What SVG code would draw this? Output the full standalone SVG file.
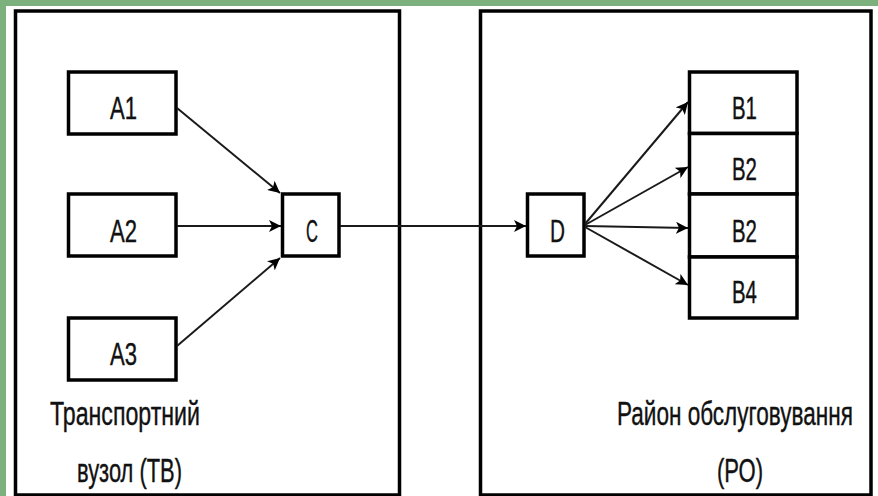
<svg xmlns="http://www.w3.org/2000/svg" width="878" height="496" viewBox="0 0 878 496">
<style>
.panel{fill:#fff;stroke:#000;stroke-width:3.5}
.box{fill:#fff;stroke:#000;stroke-width:3.5}
.lbl{font-family:"Liberation Sans",Arial,sans-serif;font-size:32px;fill:#111;stroke:#111;stroke-width:0.4}
.cap{font-family:"Liberation Sans",Arial,sans-serif;font-size:33px;fill:#111;stroke:#111;stroke-width:0.4}
.conn{stroke:#1a1a1a;stroke-width:2;fill:none;marker-end:url(#arr)}
</style>
<defs>
<marker id="arr" markerUnits="userSpaceOnUse" markerWidth="14" markerHeight="12" refX="12" refY="6" orient="auto">
<path d="M0,0 L12,6 L0,12 L3,6 Z" fill="#000"/>
</marker>
</defs>
<rect x="0" y="0" width="878" height="496" fill="#fff"/>
<rect x="0" y="0" width="878" height="6" fill="#7cb07c"/>
<rect x="0" y="0" width="6" height="496" fill="#7cb07c"/>

<g id="panel-tv">
<rect class="panel" x="15.5" y="11" width="384" height="484"/>
<text class="cap" transform="scale(0.7,1)" x="71.4" y="425" textLength="214.3" lengthAdjust="spacingAndGlyphs">Транспортний</text>
<text class="cap" transform="scale(0.7,1)" x="110" y="482" textLength="150" lengthAdjust="spacingAndGlyphs">вузол (ТВ)</text>
</g>
<g id="panel-ro">
<rect class="panel" x="480.5" y="11" width="390.5" height="484"/>
<text class="cap" transform="scale(0.7,1)" x="881.4" y="425" textLength="337.1" lengthAdjust="spacingAndGlyphs">Район обслуговування</text>
<text class="cap" transform="scale(0.7,1)" x="1024.3" y="482" textLength="65.7" lengthAdjust="spacingAndGlyphs">(РО)</text>
</g>

<g id="A1"><rect class="box" x="68.5" y="72" width="107.5" height="62"/><text class="lbl" transform="scale(0.7,1)" x="157.1" y="119" textLength="38.6" lengthAdjust="spacingAndGlyphs">A1</text></g>
<g id="A2"><rect class="box" x="68.5" y="194" width="107.5" height="62"/><text class="lbl" transform="scale(0.7,1)" x="157.1" y="242" textLength="38.6" lengthAdjust="spacingAndGlyphs">A2</text></g>
<g id="A3"><rect class="box" x="68.5" y="318" width="107.5" height="62"/><text class="lbl" transform="scale(0.7,1)" x="157.1" y="365" textLength="38.6" lengthAdjust="spacingAndGlyphs">A3</text></g>
<g id="C"><rect class="box" x="282.5" y="194" width="56.5" height="62"/><text class="lbl" transform="scale(0.7,1)" x="437.1" y="242" textLength="17.1" lengthAdjust="spacingAndGlyphs">C</text></g>
<g id="D"><rect class="box" x="527.5" y="194" width="56.5" height="62"/><text class="lbl" transform="scale(0.7,1)" x="785.7" y="242" textLength="21.4" lengthAdjust="spacingAndGlyphs">D</text></g>
<g id="B1"><rect class="box" x="689.5" y="72" width="107.5" height="61.5"/><text class="lbl" transform="scale(0.7,1)" x="1045.7" y="119" textLength="35.7" lengthAdjust="spacingAndGlyphs">B1</text></g>
<g id="B2a"><rect class="box" x="689.5" y="133.5" width="107.5" height="60.5"/><text class="lbl" transform="scale(0.7,1)" x="1045.7" y="180" textLength="35.7" lengthAdjust="spacingAndGlyphs">B2</text></g>
<g id="B2b"><rect class="box" x="689.5" y="194" width="107.5" height="63"/><text class="lbl" transform="scale(0.7,1)" x="1045.7" y="242" textLength="35.7" lengthAdjust="spacingAndGlyphs">B2</text></g>
<g id="B4"><rect class="box" x="689.5" y="257" width="107.5" height="61"/><text class="lbl" transform="scale(0.7,1)" x="1045.7" y="303" textLength="35.7" lengthAdjust="spacingAndGlyphs">B4</text></g>

<g id="connectors">
<line class="conn" x1="177" y1="108" x2="280" y2="193"/>
<line class="conn" x1="177" y1="226" x2="281" y2="226"/>
<line class="conn" x1="177" y1="346" x2="280" y2="258"/>
<line class="conn" x1="340" y1="226" x2="526" y2="226"/>
<line class="conn" x1="585" y1="224" x2="688" y2="102"/>
<line class="conn" x1="585" y1="225" x2="688" y2="167"/>
<line class="conn" x1="585" y1="226" x2="688" y2="228"/>
<line class="conn" x1="585" y1="227" x2="688" y2="285"/>
</g>
</svg>
